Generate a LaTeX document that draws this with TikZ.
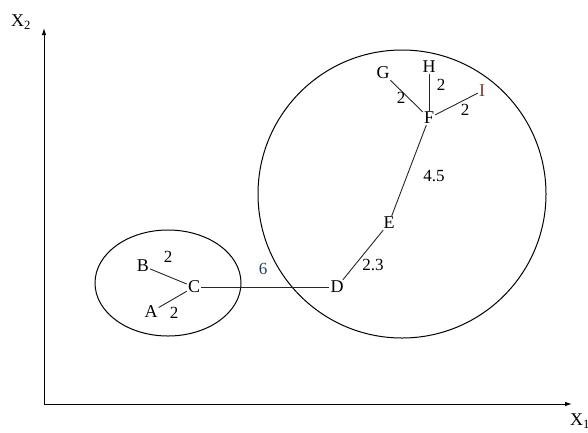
\documentclass[tikz,border=0pt]{standalone}
\usepackage{fontspec}
\setmainfont{Liberation Serif}
\usetikzlibrary{arrows.meta}
\definecolor{lbl6}{HTML}{1F3F6F}
\definecolor{lblI}{HTML}{7A3A2A}
\begin{document}
\begin{tikzpicture}[x=1pt,y=-1pt,
  pt/.style={inner sep=1pt,font=\fontsize{18}{18}\selectfont},
  wt/.style={inner sep=0pt,font=\fontsize{17}{17}\selectfont},
  edge/.style={line width=0.9pt,draw=black!85},
  axis/.style={line width=1pt,-{Latex[length=7pt,width=4.5pt]}},
  region/.style={line width=1pt}]
\useasboundingbox (0,0) rectangle (588,432);
% axes
\coordinate (O) at (44,404);
\coordinate (Ytop) at (44,28);
\coordinate (Xend) at (572,404);
\draw[axis] (O) -- (Ytop);
\draw[axis] (O) -- (Xend);
\node[pt,anchor=west] (x2) at (10,22) {X\textsubscript{2}};
\node[pt,anchor=west] (x1) at (569,421) {X\textsubscript{1}};
% regions
\draw[region] (168,283) ellipse [x radius=73, y radius=53];
\draw[region] (402,194) circle [radius=144];
% points
\node[pt] (B) at (143,266) {B};
\node[pt] (C) at (194,287) {C};
\node[pt] (A) at (151,312) {A};
\node[pt] (D) at (337,287) {D};
\node[pt] (E) at (389,223) {E};
\node[pt] (F) at (429,118) {F};
\node[pt] (G) at (383,73) {G};
\node[pt] (H) at (429,67) {H};
\node[pt,text=lblI] (I) at (482,91) {I};
% edges
\draw[edge] (B) -- (C);
\draw[edge] (A) -- (C);
\draw[edge] (C.east) -- (D.west);
\draw[edge] (D) -- (E);
\draw[edge] (E) -- (F);
\draw[edge] (G) -- (F);
\draw[edge] (H) -- (F);
\draw[edge] (I) -- (F);
% weights
\node[wt] (wB) at (168,257) {2};
\node[wt] (wA) at (174,313) {2};
\node[wt,text=lbl6] (w6) at (263,269) {6};
\node[wt] (wDE) at (373,265) {2.3};
\node[wt] (wEF) at (434,176) {4.5};
\node[wt] (wG) at (401,98) {2};
\node[wt] (wH) at (441,85) {2};
\node[wt] (wI) at (465,110) {2};
\end{tikzpicture}
\end{document}
